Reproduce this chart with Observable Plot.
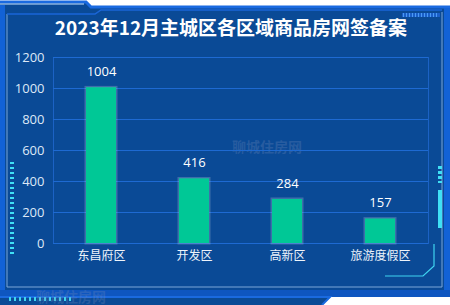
<!DOCTYPE html>
<html>
<head>
<meta charset="utf-8">
<script src="https://cdn.jsdelivr.net/npm/d3@7"></script>
<script src="https://cdn.jsdelivr.net/npm/@observablehq/plot@0.6"></script>
<style>
  html, body { margin: 0; padding: 0; background: #ffffff; }
  #wrap { position: relative; width: 450px; height: 305px; overflow: hidden; font-family: "Noto Sans CJK SC", sans-serif; }
  #bg { position: absolute; left: 0; top: 0; }
  #title { position: absolute; left: 0; top: 13px; width: 462px; text-align: center; color: #ffffff; font-weight: bold; font-size: 19px; line-height: 28px; }
  #chart { position: absolute; left: 0; top: 0; }
</style>
</head>
<body>
<div id="wrap">
  <svg id="bg" width="450" height="305" xmlns="http://www.w3.org/2000/svg">
    <rect x="0" y="0" width="450" height="305" fill="#ffffff"/>
    <path d="M0,2 L86,2 L91,7 L450,7 L450,297 L330,297 L322,305 L0,305 Z" fill="#0a4a96"/>
    <path d="M0,2 L86,2 L91,7 L450,7" fill="none" stroke="#1a6ae0" stroke-width="3"/>
    <path d="M0,4 L84,4" fill="none" stroke="#c8e4ff" stroke-width="1.2"/>
    <rect x="0" y="5" width="5" height="292" fill="#1262d6"/>
    <rect x="444" y="8" width="6" height="289" fill="#1262d6"/>
    <path d="M7,14 L7,287 L442,287 L442,12" fill="none" stroke="#7aa6d8" stroke-width="1"/>
    <path d="M7,14 L95,14 L101,10 L442,10" fill="none" stroke="#1a66d8" stroke-width="1.5"/>
    <rect x="0" y="290" width="450" height="7" fill="#0e56c0"/>
    <path d="M0,297 L330,297 L322,305" fill="none" stroke="#1a6ae0" stroke-width="2"/>
    <g fill="#3fd4f0">
      <rect x="9" y="297" width="2" height="4"/><rect x="14" y="297" width="2" height="4"/><rect x="19" y="297" width="2" height="4"/>
      <rect x="24" y="297" width="2" height="4"/><rect x="29" y="297" width="2" height="4"/><rect x="34" y="297" width="2" height="4"/>
      <rect x="39" y="297" width="2" height="4"/><rect x="44" y="297" width="2" height="4"/><rect x="49" y="297" width="2" height="4"/>
      <rect x="54" y="297" width="2" height="4"/><rect x="59" y="297" width="2" height="4"/><rect x="64" y="297" width="2" height="4"/>
      <rect x="69" y="297" width="2" height="4"/>
    </g>
    <g fill="#3fe0f5">
      <rect x="10" y="162" width="4" height="2"/><rect x="10" y="167" width="4" height="2"/><rect x="10" y="172" width="4" height="2"/>
      <rect x="10" y="177" width="4" height="2"/><rect x="10" y="182" width="4" height="2"/><rect x="10" y="187" width="4" height="2"/>
      <rect x="10" y="192" width="4" height="2"/><rect x="10" y="197" width="4" height="2"/><rect x="10" y="202" width="4" height="2"/>
      <rect x="10" y="207" width="4" height="2"/><rect x="10" y="212" width="4" height="2"/><rect x="10" y="217" width="4" height="2"/>
      <rect x="10" y="222" width="4" height="2"/><rect x="10" y="227" width="4" height="2"/><rect x="10" y="232" width="4" height="2"/>
      <rect x="10" y="237" width="4" height="2"/><rect x="10" y="242" width="4" height="2"/><rect x="10" y="247" width="4" height="2"/>
      <rect x="10" y="252" width="4" height="2"/>
    </g>
    <g fill="#3fe0f5">
      <rect x="438" y="166" width="4" height="3"/><rect x="438" y="171" width="4" height="3"/><rect x="438" y="176" width="4" height="3"/>
      <rect x="438" y="181" width="4" height="2"/>
      <rect x="438" y="190" width="4" height="38"/>
    </g>
    <rect x="402" y="13" width="38" height="4" fill="#1a5fc8"/>
    <g fill="#4a9af5">
      <rect x="403" y="13" width="1" height="4"/><rect x="406" y="13" width="1" height="4"/><rect x="409" y="13" width="1" height="4"/>
      <rect x="412" y="13" width="1" height="4"/><rect x="415" y="13" width="1" height="4"/><rect x="418" y="13" width="1" height="4"/>
      <rect x="421" y="13" width="1" height="4"/><rect x="424" y="13" width="1" height="4"/><rect x="427" y="13" width="1" height="4"/>
      <rect x="430" y="13" width="1" height="4"/><rect x="433" y="13" width="1" height="4"/><rect x="436" y="13" width="1" height="4"/>
    </g>
    <path d="M434,244 L434,266 L423,276 L385,276" fill="none" stroke="#3fd4f0" stroke-width="1.2"/>
    <g fill="#6a86b8" opacity="0.3" font-size="14" font-weight="bold" font-family="Noto Sans CJK SC, sans-serif">
      <text x="232" y="152">聊城住房网</text>
      <text x="36" y="302">聊城住房网</text>
    </g>
  </svg>
  <div id="chart"></div>
  <div id="title">2023年12月主城区各区域商品房网签备案</div>
</div>
<script>
const categories = ["东昌府区", "开发区", "高新区", "旅游度假区"];
const values = [1004, 416, 284, 157];
const yTicks = [0, 200, 400, 600, 800, 1000, 1200];

const data = categories.map((c, i) => ({category: c, value: values[i]}));

const chart = Plot.plot({
  width: 450,
  height: 305,
  marginTop: 57,
  marginBottom: 62,
  marginLeft: 53,
  marginRight: 22,
  style: {background: "transparent", color: "#e6eef8", fontSize: "12px", fontFamily: "'Open Sans', 'Noto Sans CJK SC', sans-serif"},
  x: {domain: categories, paddingInner: 0.68, paddingOuter: 0.34, label: null},
  y: {domain: [0, 1200], label: null},
  marks: [
    Plot.frame({stroke: "#1c62c4", strokeWidth: 1}),
    Plot.gridY(yTicks, {stroke: "#1e6ad2", strokeOpacity: 1, strokeWidth: 1}),
    Plot.axisY(yTicks, {tickSize: 0, tickPadding: 9, fill: "#dde8f6", fontSize: 13, tickFormat: d => String(d), label: null}),
    Plot.axisX({tickSize: 0, tickPadding: 8, fill: "#eef4fb", fontSize: 12, fontFamily: "'Noto Sans CJK SC', sans-serif", label: null}),
    Plot.barY(data, {x: "category", y: "value", fill: "#00c896", stroke: "#9fb4d0", strokeOpacity: 0.35, strokeWidth: 3}),
    Plot.barY(data, {x: "category", y: "value", fill: "#00c896"}),
    Plot.text(data, {x: "category", y: "value", text: d => String(d.value), dy: -16, fill: "#ffffff", fontSize: 13})
  ]
});
document.getElementById("chart").appendChild(chart);
</script>
</body>
</html>
